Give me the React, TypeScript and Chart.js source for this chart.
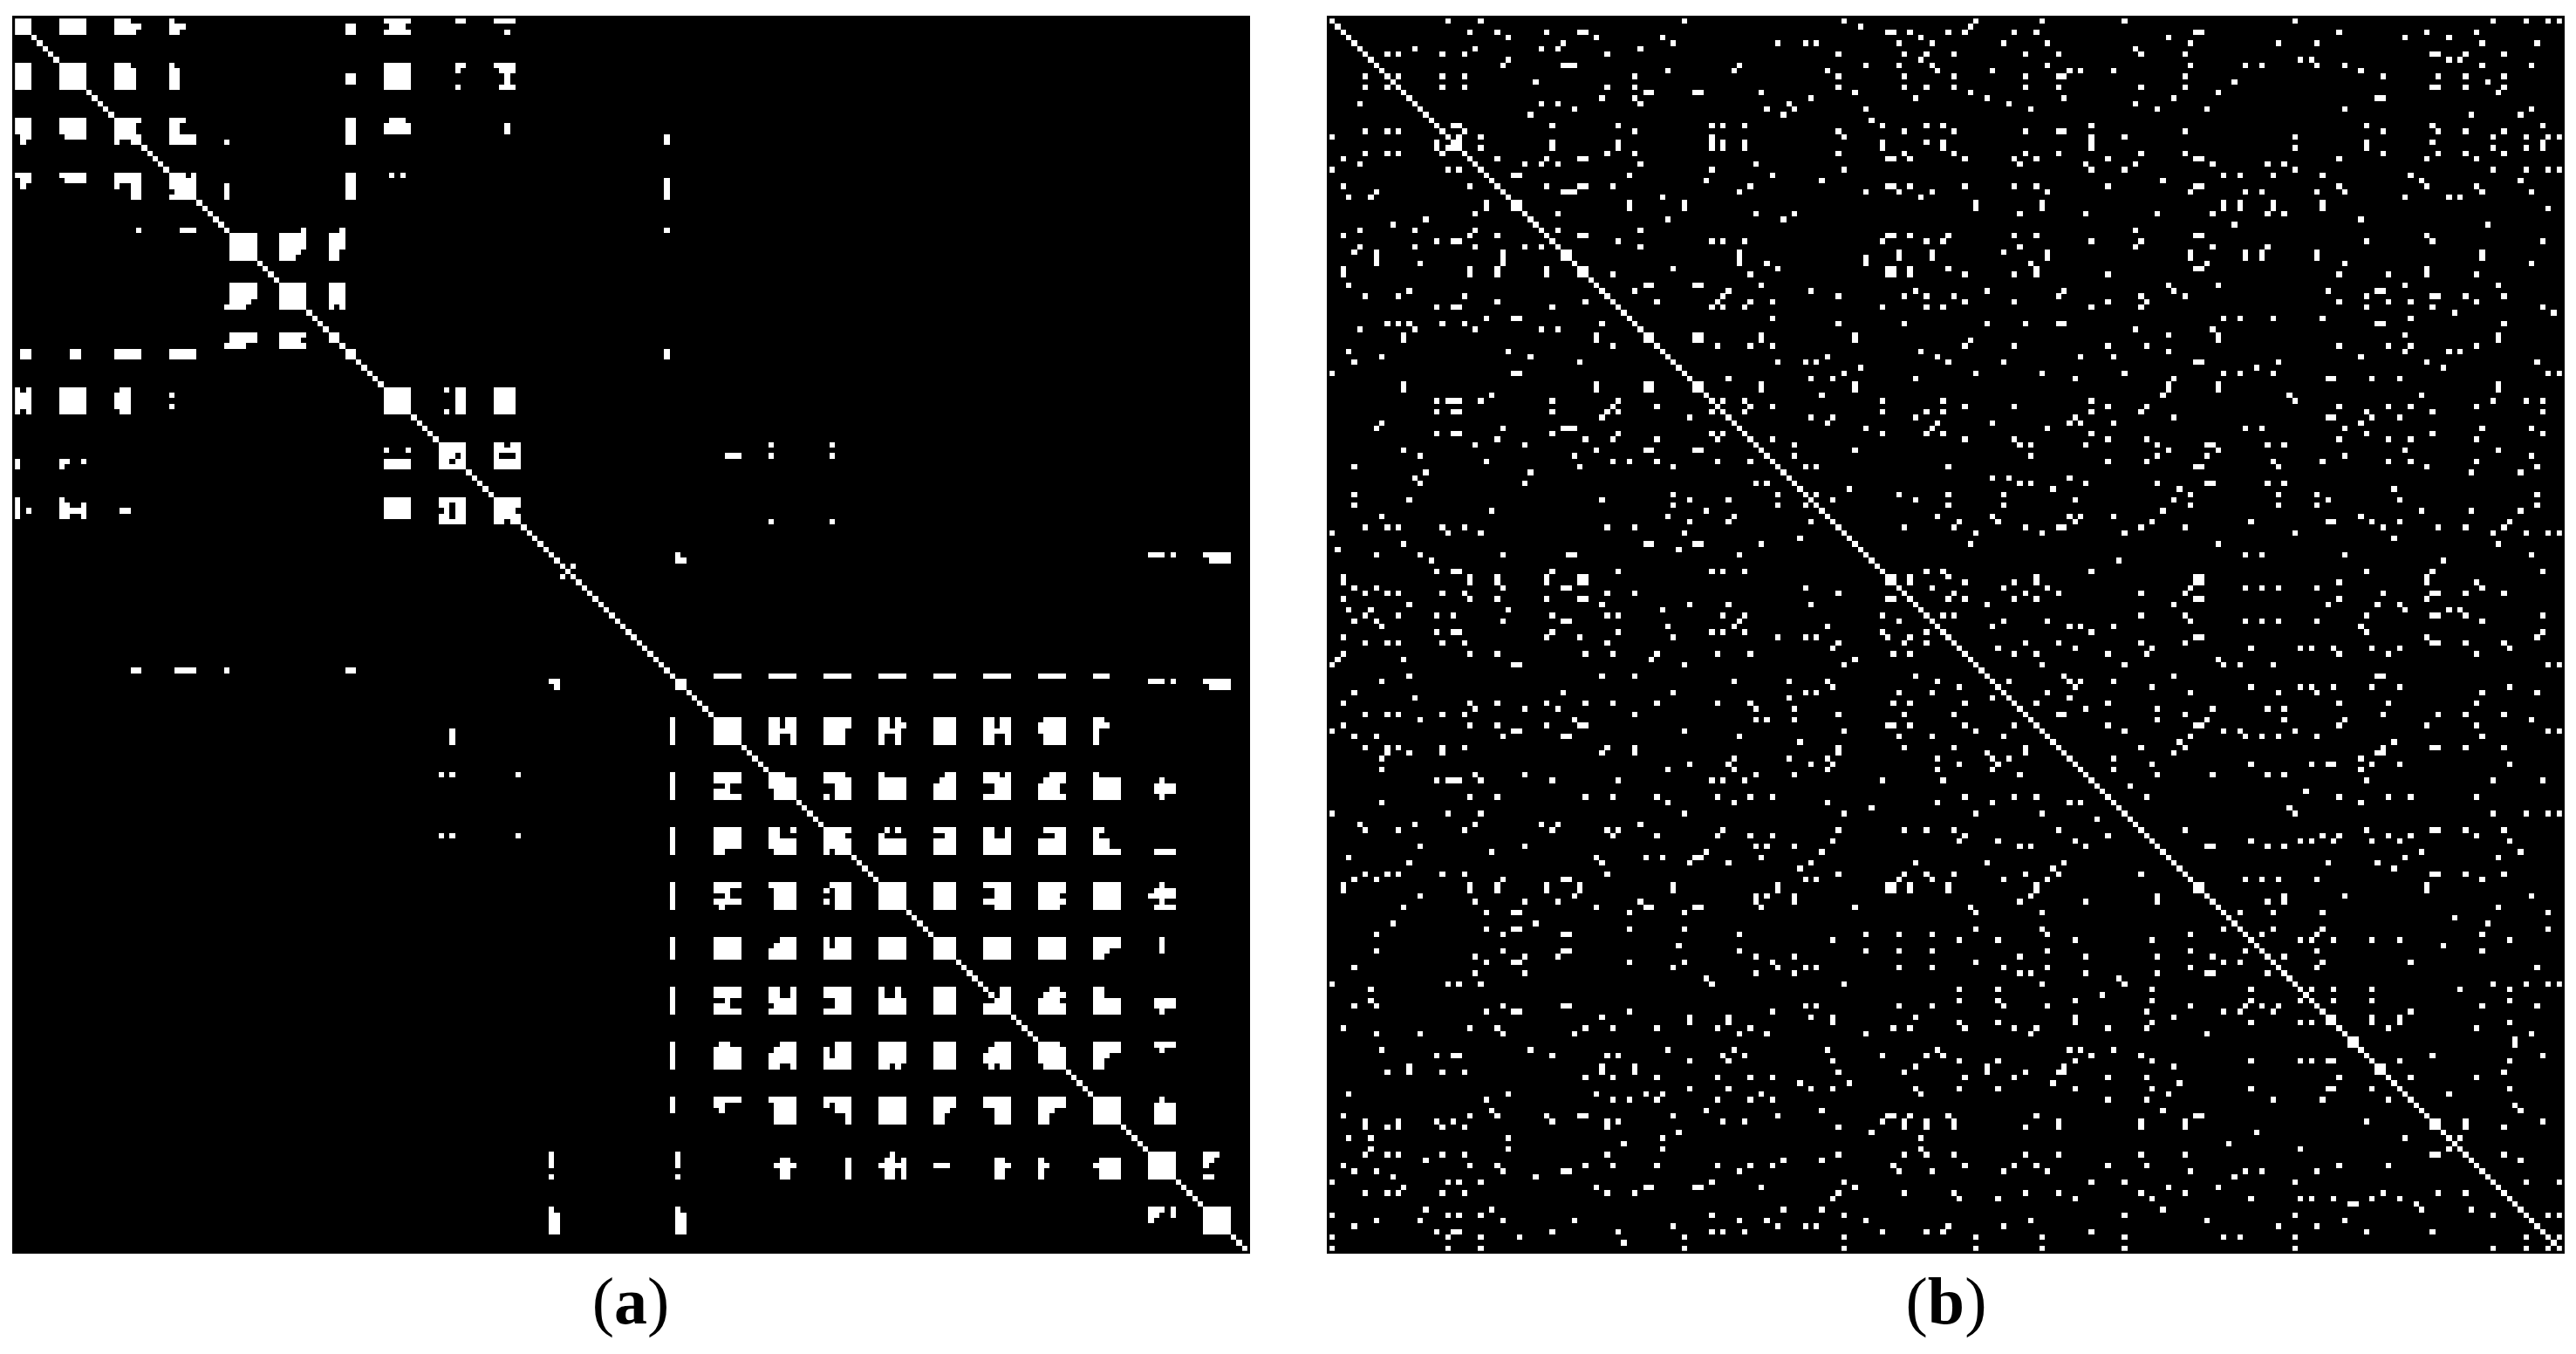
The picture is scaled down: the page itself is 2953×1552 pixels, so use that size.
import React, { useEffect, useRef } from "react";
import { Chart, registerables, PointElement } from "chart.js";

Chart.register(...registerables);

const matrixSize = 224;

// Each entry is "rows: columns". Both matrices are symmetric with a full main diagonal.
const panelABlocksTop: string[] = [
  "0: 0-2 8-12 18-20 28 67-71",
  "1: 0-2 8-12 18-22 28-30 60-61 68-70",
  "2: 0-2 8-12 18-21 28-29 60-61 67-71",
  "8: 0-2 8-12 18-20 28 67-71",
  "9: 0-2 8-12 18-21 28-29 67-71",
  "10-11: 0-2 8-12 18-21 28-29 60-61 67-71",
  "12: 0-2 8-12 18-21 28-29 67-71",
  "18: 0-2 8-12 18-22 28-30 60-61 68-70",
  "19-20: 0-2 8-12 18-21 28-29 60-61 67-71",
  "21: 1-2 9-12 18-22 28-32 60-61 118",
  "22: 1 18 21-22 28-32 38 60-61 118",
  "28: 0-2 8-12 18-22 28-30 32 60-61 68 70",
  "29: 1-2 9-12 18-22 28-32 60-61 118",
  "30: 1 18 21-22 28-32 38 60-61 118",
  "31: 21-22 29-32 38 60-61 118",
  "32: 21-22 28-32 38 60-61 118",
  "38: 22 30-32 52 59 118",
  "39-41: 39-42 48-52 57-59",
  "42: 39-42 48-51 57-58",
  "43: 39-42 48-50 57-58",
  "48-50: 39-42 48-52 57-59",
  "51: 39-41 48-52 57-59",
  "52: 38-40 48-52 57 59",
  "57: 39-42 48-52 57-58",
  "58: 39-42 48-51 57-58",
  "59: 38-40 48-52 59",
  "60-61: 1-2 10-11 18-22 28-32 60-61 118",
];

const panelABlocksMiddle: string[] = [
  "67-71: 67-71 80-81 87-90",
  "67: 78",
  "71: 78",
  "77: 77-81 87-88 90-91 137 148",
  "78: 77-81 87-91",
  "79: 77-79 81 87 91 129-131 137 148",
  "80: 77-78 80-81 87-91",
  "81: 77-81 87-91",
  "87-88: 87-91",
  "89: 87-90",
  "90: 87-91",
  "91: 87-88 90-91 137 148",
  "80-81: 0",
  "80: 8-9 12",
  "81: 8",
  "87: 0 8",
  "88: 0 8-9 12",
  "89: 0 2 8-12 19-20",
  "90: 0 8-9 12",
  "97: 120 206-208 210 216-220",
  "98: 120-121 217-220",
  "99: 99 101",
  "101: 99 101",
  "119: 127-131 137-141 147-151 157-161 167-170 176-180 186-190 196-198",
  "120: 120-121 206-208 210 216-220",
  "121: 120-121 217-220",
];

const panelABlocksBottom: string[] = [
  "127-128: 127-131 137-138 140-141 147-151 157-158 160 167-170 176-177 179-180",
  "127: 187-190 196-197",
  "128: 186-190 196-198 161",
  "129: 127-131 137-141 147-150 157-160 167-170 176-180 186-190 196",
  "130-131: 127-131 137-138 141 147-150 157 160 167-170 176-177 180 187-190 196",
  "137: 137-139 147-150 157 169-170 176-178 180 188-190 196",
  "138: 137-141 147-151 157-161 168-170 176-180 187-190 196-200 208",
  "139: 137-141 149-151 157-161 167-170 178-180 186-189 196-200 207-210",
  "140: 138-141 149-151 157-161 167-170 178-180 186-189 196-200 207-210",
  "141: 138-141 147 149-151 157-161 167-170 176-180 186-190 196-200 208",
  "147: 147-151 158 160 167-170 176-177 180 187-190 196-197",
  "148: 147-150 157 169-170 176-177 180 189-190 196",
  "149-150: 147-151 157-161 167-170 176-180 186-190 196-198",
  "151: 147 149-151 157-161 167-170 176-180 186-190 196-200 207-210",
  "157: 157-161 167-170 176-180 186-190 196-200 208",
  "158: 157-161 167-170 178-180 186-190 196-200 207-210",
  "159: 157-161 167-170 178-180 186-189 196-200 206-210",
  "160: 157-161 167-170 176-180 186-190 196-200 208",
  "161: 157-161 167-170 178-180 186-189 196-200 207-210",
  "167-168: 167-170 176-180 186-190 196-200 208",
  "169: 167-170 176-180 186-190 196-198 208",
  "170: 167-170 176-180 186-190 196-197",
  "176: 176 179-180 188-189 196-197",
  "177: 177 179-180 187-190 196-197",
  "178: 178-180 186-189 196-200 207-210",
  "179: 176-180 186-190 196-200 207-210",
  "180: 176-180 186-190 196-200 208",
  "186: 186-189 196-200 207-210",
  "187: 186-190 196-200 208",
  "188: 186-190 196-198",
  "189: 186-190 196-197",
  "190: 187-190 196-197",
  "196: 196-200 208",
  "197-200: 196-200 207-210",
  "206: 206-210 216-218",
  "207: 206-210 216-217",
  "208: 206-210 216",
  "209: 206-210",
  "210: 206-210 216-217",
  "216-220: 216-220",
];

const panelBTopLeft: string[] = [
  "0: 21 27 64", "2: 25 30 39 45 46", "3: 32 48 60", "4: 42 62", "5: 15 26 38 41 56",
  "6: 10 12 20 24 50", "7: 32", "8: 31 42 43 44 74", "9: 61 73", "10: 6 12 20 24 55",
  "11: 37", "12: 6 10 20 24 50 55", "13: 57 58 66 67", "14: 49 55", "15: 5 38 41 56",
  "16: 44", "17: 36", "19: 22 23 40 52 69 71 75", "20: 6 10 12 24 55", "21: 0 23 27",
  "22: 19 22 23 40 52 69 71 75", "23: 19 22 23 27 40 52 69 71 75", "24: 6 10 12 20 50 55",
  "25: 2 30 39 45 46", "26: 5 35 38 41 56", "27: 0 21 23 69", "28: 33 34 54", "29: 68",
  "30: 2 25 39 45 46 51", "31: 8 42 43 44 74", "32: 3 7 60", "33-34: 28 33 34 54 64",
  "35: 26 41", "36: 17 61", "37: 11", "38: 5 15 26 41 56", "39: 2 25 30 45 46",
  "40: 19 22 23 52 69 71 75", "41: 5 15 26 35 38 56", "42: 4 8 31 42 43 74",
  "43: 8 31 42 43 74", "44: 8 16 31 74", "45: 2 25 30 39 45 46 62",
  "46: 2 25 30 39 45 46 51", "48: 3 57 58 66 67", "49: 14 55 72", "50: 6 12 24 71",
  "51: 30 46 59 70", "52: 19 22 23 40 69 71 75", "54: 28 33 34",
  "55: 10 12 14 20 24 49", "56: 5 15 26 38 41", "57-58: 13 48 57 58 66 67", "59: 51 70",
  "60: 3 32", "61: 9 36", "62: 4 45", "64: 0 33 34", "65: 72", "66-67: 13 48 57 58 66 67",
];

const panelBMiddle: string[] = [
  "67: 13 48 57 58 66 67 78 95", "68: 29 89", "69: 19 21 22 23 27 40 52 69 71 75 100",
  "70: 51 59 70 76 80", "71: 19 22 23 40 50 52 69 71 75 100 108", "72: 49 65 72 87 91 106",
  "73: 9 73 90 110", "74: 8 31 42 43 44 74 97 109", "75: 19 22 23 40 52 69 71 75 100 108",
  "76: 30 46 51 59 70 76 80", "77: 26 35 77 84", "78: 13 48 57 58 66 67 78 95",
  "79: 16 44 79 84", "80: 28 51 54 59 70 76 80", "81: 4 45 62 81 86 88", "82: 17 36 82",
  "83: 15 83", "84: 16 35 77 79 84", "85: 85 94", "86: 4 62 81 86 88 103",
  "87: 14 49 65 72 87 91 106", "88: 4 62 81 86 88", "89: 29 68 89", "90: 9 61 73 90 110",
  "91: 65 72 87 91", "92: 6 10 12 20 24 50 55 92 104", "93: 0 21 27 64 93", "94: 85 94",
  "95: 13 57 58 66 67 78 95", "96: 1 63 96", "97: 8 16 31 43 44 74 97", "98: 18 98", "99: 99",
  "100: 19 22 23 40 52 69 71 75 100 108", "101-102: 2 25 30 39 45 46 101 102 105",
  "103: 4 8 31 42 43 86 103 109", "104: 6 10 12 20 24 50 55 92 104",
  "105: 2 25 30 39 45 46 101 102 105", "106: 14 49 65 72 87 106", "107: 3 7 32 60 107",
  "108: 6 12 19 22 40 50 52 71 75 100 108", "109: 4 8 31 42 43 74 103 109",
  "110: 9 61 73 90 110",
];

const panelBTopRight: string[] = [
  "0: 117 129 144 175 211 217 221 223", "1: 116", "2: 112 115 124 128 157 158 183 199 208",
  "3: 152 195 203", "4: 122 130 156 172 179 209 219", "5: 146",
  "6: 113 126 132 147 155 200 201 206 213", "7: 176 178 203 205",
  "8: 130 156 166 169 179 184 209 218", "9: 110 120 134 136 142 187",
  "10: 113 126 132 133 155 191 201 206 213", "11: 164 210",
  "12: 113 126 132 147 155 200 201 206 213", "13: 116 161 212", "14: 119 133 153 190 191",
  "15: 123 146", "16: 127 150 159 184 218", "17: 207 216", "19: 111 138 188 200 220",
  "20: 113 126 132 133 155 191 201 206 213", "21: 138 144 175 211 217 221 223",
  "22: 111 138 188 200 220", "23: 111 138 175 188 211 217 220",
  "24: 113 126 132 147 155 191 201 206 213", "25: 115 124 128 141 157 158 183 199 208",
  "26: 125 137 146 160 170 173", "27: 138 144 175 211 217 221 223", "28: 162 165 171 180 196",
  "29: 151 198 216", "30: 115 124 128 141 157 158 183 199 208",
  "31: 130 156 166 169 179 184 209 218", "32: 195 203 205", "33: 117 129 162 165 171 180",
  "34: 117 129 162 165 171 180 221", "35: 125 137 150 160 170 173", "36: 187", "37: 164 210",
  "38: 146", "39: 112 124 128 157 158 199", "40: 111 138 147 188 200 220", "41: 125 146 160 170",
  "42: 122 130 156 166 169 179 209", "43: 130 156 166 169 179 209", "44: 127 159 184 218",
  "45: 112 128 157 158 199", "46: 115 124 128 141 183 192 199 208", "48: 152 161 195 212",
  "49: 119 133 153 181 190 191", "50: 113 132 147 155 188 200 201 206 213",
  "51: 115 124 141 148 183 192 196 208", "52: 111 138 147 188 200 220", "53: 204 222",
  "54: 162 165 171 180 196", "55: 119 126 132 133 190 191 213", "56: 146 160",
  "57: 152 161 195 212", "58: 116 161 212", "59: 115 124 141 148 183 192 196 208",
  "60: 152 195 203 205", "61: 110 136 142 187", "62: 112 122 157 158 172 199 219",
  "63: 168 202", "64: 117 129 144 162 165 171 221 223", "65: 135 153 181 182 189 194",
  "66-67: 152 161 212", "68: 151 174 198", "69: 111 138 175 211 217 220",
  "70: 115 124 141 148 183 192 196 208", "71: 111 138 147 188 200 220",
  "72: 135 153 181 182 189 194", "73: 110 120 134 136 142 187", "74: 130 166 169 184 209 218",
  "75: 111 138 188 200 220", "76: 115 124 141 148 183 192 196 208",
  "77: 125 127 137 150 159 160 170 173", "78: 152 161 195 212", "79: 127 150 159 184 218",
  "80: 141 148 171 180 192 196 208", "81: 112 157 158 172 199 219", "82: 207 216",
  "83: 120 123 134", "84: 125 127 137 150 159 160 170 173", "85: 131 154 193",
  "86: 112 122 156 172 179 219", "87: 135 153 181 194", "88: 112 122 156 172 179 219",
  "89: 151 198 207 216", "90: 110 120 134 136 142 187",
  "91: 114 121 135 149 167 181 182 189 194 214", "92: 113 126 132 133 147 155 191 201 206 213",
  "93: 117 129 144 175 211 217 221 223", "94: 193", "95: 116 161 212", "97: 166 169 184 218",
  "98: 143 202", "100: 111 138 188 200 220", "101: 112 128 157 158 199",
  "102: 115 124 128 157 158 183 199 208", "103: 122 130 156 166 169 172 179 209",
  "104: 113 126 132 147 155 191 200 201 206 213", "105: 112 115 124 128 157 158 183 199",
  "106: 119 153 181 190 194", "107: 195 203 205", "108: 111 113 147 155 188 200 201 206 220",
  "109: 122 130 156 166 169 172 179 209", "110: 120 134 136 142 187",
];

const panelBBottomRight: string[] = [
  "111: 138 188 220", "112: 157 158 199 219", "113: 126 132 147 155 200 201 206 213",
  "114: 121 135 149 167 176 178 182 189 194 214", "115: 124 128 141 148 183 192 208",
  "116: 161", "117: 129 144 162 165 171 221 223", "119: 133 153 190 191",
  "120: 123 134 136 142", "121: 135 149 167 176 178 182 189 194 214",
  "122: 130 156 172 179 209 219", "123: 134", "124: 128 141 183 192 208",
  "125: 137 150 160 170 173", "126: 132 133 155 191 201 206 213", "127: 150 159 173 184 218",
  "128: 141 157 158 183 199 208", "129: 144 162 165 175 221 223", "130: 156 166 169 172 179 209",
  "131: 154 193", "132: 147 155 191 200 201 206 213", "133: 153 190 191", "134: 142 187",
  "135: 149 167 178 181 182 189 194 214", "136: 142 187", "137: 150 160 170 173",
  "138: 188 211 220", "139: 145", "140: 177", "141: 148 183 192 196 208", "142: 187",
  "143: 174", "144: 175 211 217 221 223", "147: 155 188 200 201 206 213",
  "148: 180 183 192 196 208", "149: 167 176 178 182 189 194 214", "150: 159 160 170 173",
  "151: 198 216", "152: 195 212", "153: 181 190", "154: 193", "155: 200 201 206 213",
  "156: 166 169 172 179 209", "157-158: 157 158 199", "159: 173 184 218", "160: 170 173",
  "161: 212", "162: 165 171 180 221", "163: 204", "164: 210", "165: 171 180 221",
  "166: 169 179 209", "167: 176 178 182 189 194 214", "168: 202", "169: 179 209", "170: 173",
  "171: 180 196", "172: 179 219", "175: 211 217 221 223", "176: 178 182 189 205 214",
  "178: 182 189 214", "179: 209 219", "180: 196", "181-182: 181 182 189 194", "182: 214",
  "183: 192 208", "184: 218", "185-186: 185 186 215", "188: 200 220", "189: 194 214",
  "190-191: 190 191", "191: 213", "192: 196 208", "194: 214", "195: 203", "197: 215",
  "198: 216", "200-201: 200 201 206", "200: 220", "201: 213", "203: 205", "206: 213",
  "207: 216", "211: 217 223", "217: 221 223", "221: 223",
];

const parseRange = (token: string): number[] => {
  const [from, to] = token.split("-").map(Number);
  const out: number[] = [];
  for (let i = from; i <= (to ?? from); i++) out.push(i);
  return out;
};

const buildCells = (lists: string[][]) => {
  const seen = new Set<number>();
  for (let i = 0; i < matrixSize; i++) seen.add(i * matrixSize + i);
  for (const list of lists) {
    for (const entry of list) {
      const [rowPart, colPart] = entry.split(":");
      const rows = parseRange(rowPart.trim());
      const cols = colPart.trim().split(/\s+/).flatMap(parseRange);
      for (const r of rows) {
        for (const c of cols) {
          seen.add(r * matrixSize + c);
          seen.add(c * matrixSize + r);
        }
      }
    }
  }
  return Array.from(seen).map((key) => ({
    x: (key % matrixSize) + 0.5,
    y: Math.floor(key / matrixSize) + 0.5,
  }));
};

const panelA = buildCells([panelABlocksTop, panelABlocksMiddle, panelABlocksBottom]);
const panelB = buildCells([panelBTopLeft, panelBMiddle, panelBTopRight, panelBBottomRight]);

const PANEL = 1419;
const HALF_CELL = PANEL / matrixSize / 2;

// Snap each matrix cell to whole pixels so that neighbouring cells join without seams.
PointElement.prototype.draw = function (this: any, ctx: CanvasRenderingContext2D) {
  const r = this.options.radius;
  const x0 = Math.round(this.x - r);
  const x1 = Math.round(this.x + r);
  const y0 = Math.round(this.y - r);
  const y1 = Math.round(this.y + r);
  ctx.fillStyle = this.options.backgroundColor;
  ctx.fillRect(x0, y0, x1 - x0, y1 - y0);
};

function Matrix({ cells, left, name }: { cells: { x: number; y: number }[]; left: number; name: string }) {
  const ref = useRef<HTMLCanvasElement>(null);
  useEffect(() => {
    const chart = new Chart(ref.current!, {
      type: "scatter",
      data: {
        datasets: [
          {
            label: name,
            data: cells,
            pointStyle: "rect",
            pointRadius: HALF_CELL,
            pointHoverRadius: HALF_CELL,
            pointBorderWidth: 0,
            pointBackgroundColor: "#ffffff",
            backgroundColor: "#ffffff",
            borderWidth: 0,
          },
        ],
      },
      options: {
        responsive: false,
        animation: false,
        devicePixelRatio: 1,
        layout: { padding: 0 },
        plugins: { legend: { display: false }, title: { display: false }, tooltip: { enabled: false } },
        events: [],
        scales: {
          x: { type: "linear", min: 0, max: matrixSize, display: false },
          y: { type: "linear", min: 0, max: matrixSize, reverse: true, display: false },
        },
      },
    });
    return () => chart.destroy();
  }, [cells, name]);
  return (
    <canvas
      ref={ref}
      width={PANEL}
      height={PANEL}
      style={{ position: "absolute", left, top: 18, width: PANEL, height: PANEL, background: "#000" }}
    />
  );
}

const captionStyle: React.CSSProperties = {
  position: "absolute",
  top: 1451,
  width: 200,
  textAlign: "center",
  fontFamily: "'Liberation Serif', serif",
  fontSize: 76,
  lineHeight: "80px",
  color: "#000",
};

export default function App() {
  return (
    <div style={{ position: "absolute", left: 0, top: 0, width: 2953, height: 1552, background: "#fff", overflow: "hidden" }}>
      <Matrix cells={panelA} left={14} name="(a)" />
      <Matrix cells={panelB} left={1521} name="(b)" />
      <div style={{ ...captionStyle, left: 623 }}>
        (<b>a</b>)
      </div>
      <div style={{ ...captionStyle, left: 2131 }}>
        (<b>b</b>)
      </div>
    </div>
  );
}
